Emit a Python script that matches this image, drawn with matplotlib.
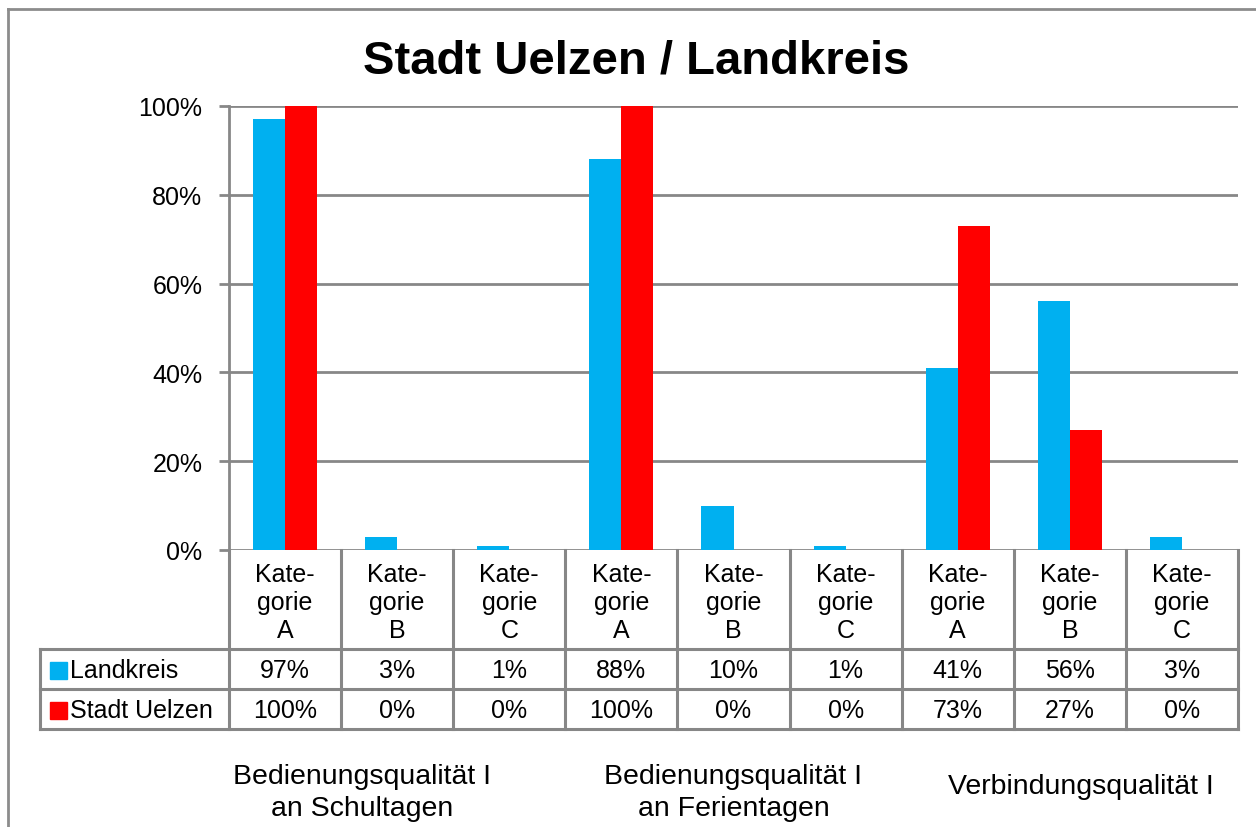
import matplotlib
matplotlib.use("Agg")
import matplotlib.pyplot as plt
import matplotlib.transforms as mtransforms
from matplotlib.lines import Line2D
from matplotlib.patches import Rectangle
import numpy as np

plt.rcParams["font.family"] = ["Liberation Sans", "DejaVu Sans"]

TITLE = "Stadt Uelzen / Landkreis"
CATEGORIES = ["Kate-\ngorie\nA", "Kate-\ngorie\nB", "Kate-\ngorie\nC"] * 3
GROUPS = ["Bedienungsqualität I\nan Schultagen",
          "Bedienungsqualität I\nan Ferientagen",
          "Verbindungsqualität I"]
SERIES = ["Landkreis", "Stadt Uelzen"]
landkreis = [97, 3, 1, 88, 10, 1, 41, 56, 3]
stadt = [100, 0, 0, 100, 0, 0, 73, 27, 0]
COLORS = ["#00B0F0", "#FF0000"]
GRAY = "#878787"

W, H = 1256, 828
fig = plt.figure(figsize=(W / 100, H / 100), dpi=100)


def fy(p):
    # pixel row -> figure fraction
    return 1 - p / H


def fx(p):
    return p / W


# plot area in pixels: x 229..1238, y 107..551
ax = fig.add_axes([fx(229), fy(551), fx(1238) - fx(229), fy(107) - fy(551)])
n = len(CATEGORIES)
x = np.arange(n)
bw = 0.286
ax.bar(x - bw / 2, landkreis, bw, color=COLORS[0], zorder=3)
ax.bar(x + bw / 2, stadt, bw, color=COLORS[1], zorder=3)
ax.set_xlim(-0.5, n - 0.5)
ax.set_ylim(0, 100)
ax.set_yticks(range(0, 101, 20))
ax.set_yticklabels([f"{v}%" for v in range(0, 101, 20)], fontsize=18)
ax.tick_params(axis="y", length=7.2, width=2.0, color=GRAY, pad=12)
ax.set_xticks([])
ax.yaxis.grid(True, color=GRAY, linewidth=2.0, zorder=1)
for s in ["top", "right", "bottom"]:
    ax.spines[s].set_visible(False)
ax.spines["left"].set_color(GRAY)
ax.spines["left"].set_linewidth(2.0)
ax.spines["left"].set_zorder(4)

# data table below the axes: x from data, y in figure pixels
tr = mtransforms.blended_transform_factory(ax.transData, fig.transFigure)
lw = 2.2
row_top, row1, row2, row3 = 551, 650, 690, 730
for i in range(n + 1):
    fig.add_artist(Line2D([i - 0.5, i - 0.5], [fy(row_top), fy(row3)],
                          transform=tr, color=GRAY, linewidth=lw))
for r in (row1, row2, row3):
    fig.add_artist(Line2D([fx(40), fx(1238)], [fy(r), fy(r)],
                          color=GRAY, linewidth=lw))
fig.add_artist(Line2D([fx(40), fx(40)], [fy(row1), fy(row3)],
                      color=GRAY, linewidth=lw))

for i, cat in enumerate(CATEGORIES):
    fig.text(i, fy(603), cat, transform=tr, ha="center", va="center",
             fontsize=18, linespacing=1.2)
    fig.text(i, fy(671), f"{landkreis[i]}%", transform=tr, ha="center",
             va="center", fontsize=18)
    fig.text(i, fy(711), f"{stadt[i]}%", transform=tr, ha="center",
             va="center", fontsize=18)

for k, (name, rc) in enumerate(zip(SERIES, (671, 711))):
    fig.add_artist(Rectangle((fx(50), fy(rc + 8.5)), fx(17), 17 / H,
                             color=COLORS[k]))
    fig.text(fx(70), fy(rc), name, ha="left", va="center", fontsize=18)

group_x = [0.69, 4.0, 7.1]
group_y = [793, 793, 787]
for g, gx, gy in zip(GROUPS, group_x, group_y):
    fig.text(gx, fy(gy), g, transform=tr, ha="center", va="center",
             fontsize=20.5, linespacing=1.3)

fig.text(fx(636), fy(61), TITLE, ha="center", va="center",
         fontsize=34, fontweight="bold")

# chart frame (bottom and right run off the picture)
fig.add_artist(Line2D([fx(8), 1], [fy(10), fy(10)], color="#8c8c8c", linewidth=2))
fig.add_artist(Line2D([fx(8), fx(8)], [fy(10), 0], color="#8c8c8c", linewidth=2))

fig.savefig("out.png", dpi=100)
